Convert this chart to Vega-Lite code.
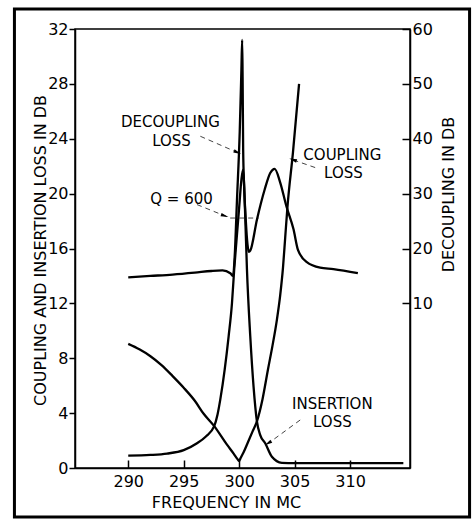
{
  "$schema": "https://vega.github.io/schema/vega-lite/v6.json",
  "width": 335,
  "height": 439,
  "autosize": {"type": "none"},
  "padding": {"left": 75, "top": 29, "right": 65, "bottom": 54},
  "background": "white",
  "config": {
    "view": {"stroke": "black", "strokeWidth": 1.5},
    "font": "DejaVu Sans",
    "axis": {
      "grid": false,
      "domainColor": "black", "domainWidth": 1.5,
      "tickColor": "black", "tickWidth": 1.5,
      "labelColor": "black", "labelFont": "DejaVu Sans", "labelFontSize": 16, "labelOverlap": false,
      "titleColor": "black", "titleFont": "DejaVu Sans", "titleFontSize": 16, "titleFontWeight": "normal"
    }
  },
  "datasets": {
    "curves": [
      {"series": "coupling", "x": 290, "y": 9.05},
      {"series": "coupling", "x": 291, "y": 8.65},
      {"series": "coupling", "x": 292, "y": 8.15},
      {"series": "coupling", "x": 293, "y": 7.5},
      {"series": "coupling", "x": 294, "y": 6.7},
      {"series": "coupling", "x": 295, "y": 5.85},
      {"series": "coupling", "x": 296, "y": 4.9},
      {"series": "coupling", "x": 296.8, "y": 3.95},
      {"series": "coupling", "x": 297.75, "y": 3.05},
      {"series": "coupling", "x": 298.9, "y": 1.7},
      {"series": "coupling", "x": 299.5, "y": 1.05},
      {"series": "coupling", "x": 299.85, "y": 0.65},
      {"series": "coupling", "x": 300.0, "y": 0.5},
      {"series": "coupling", "x": 300.12, "y": 0.71},
      {"series": "coupling", "x": 300.4, "y": 1.15},
      {"series": "coupling", "x": 300.8, "y": 1.9},
      {"series": "coupling", "x": 301.2, "y": 2.65},
      {"series": "coupling", "x": 301.6, "y": 3.4},
      {"series": "coupling", "x": 302.1, "y": 5.0},
      {"series": "coupling", "x": 302.6, "y": 7.2},
      {"series": "coupling", "x": 303.0, "y": 8.9},
      {"series": "coupling", "x": 303.4, "y": 10.8},
      {"series": "coupling", "x": 303.7, "y": 12.6},
      {"series": "coupling", "x": 303.95, "y": 14.6},
      {"series": "coupling", "x": 304.15, "y": 16.8},
      {"series": "coupling", "x": 304.35, "y": 19.0},
      {"series": "coupling", "x": 304.85, "y": 23.0},
      {"series": "coupling", "x": 305.4, "y": 28.0},
      {"series": "insertion", "x": 290, "y": 0.9},
      {"series": "insertion", "x": 292, "y": 0.95},
      {"series": "insertion", "x": 293.5, "y": 1.05},
      {"series": "insertion", "x": 295, "y": 1.3},
      {"series": "insertion", "x": 296.2, "y": 1.8},
      {"series": "insertion", "x": 297.0, "y": 2.3},
      {"series": "insertion", "x": 297.75, "y": 3.05},
      {"series": "insertion", "x": 298.05, "y": 3.9},
      {"series": "insertion", "x": 298.3, "y": 5.0},
      {"series": "insertion", "x": 298.7, "y": 7.2},
      {"series": "insertion", "x": 299.05, "y": 9.6},
      {"series": "insertion", "x": 299.35, "y": 12.0},
      {"series": "insertion", "x": 299.55, "y": 14.45},
      {"series": "insertion", "x": 299.75, "y": 16.5},
      {"series": "insertion", "x": 300.0, "y": 19.0},
      {"series": "insertion", "x": 300.2, "y": 21.0},
      {"series": "insertion", "x": 300.35, "y": 21.75},
      {"series": "insertion", "x": 300.45, "y": 20.5},
      {"series": "insertion", "x": 300.55, "y": 18.25},
      {"series": "insertion", "x": 300.7, "y": 14.5},
      {"series": "insertion", "x": 301.0, "y": 9.6},
      {"series": "insertion", "x": 301.3, "y": 5.9},
      {"series": "insertion", "x": 301.6, "y": 3.4},
      {"series": "insertion", "x": 301.9, "y": 2.4},
      {"series": "insertion", "x": 302.35, "y": 1.8},
      {"series": "insertion", "x": 302.95, "y": 0.82},
      {"series": "insertion", "x": 303.85, "y": 0.38},
      {"series": "insertion", "x": 305, "y": 0.35},
      {"series": "insertion", "x": 310, "y": 0.35},
      {"series": "insertion", "x": 314.8, "y": 0.35}
    ],
    "decoupling": [
      {"x": 290, "y": 14.75},
      {"x": 292, "y": 15.0},
      {"x": 294, "y": 15.25},
      {"x": 296, "y": 15.6},
      {"x": 297.5, "y": 15.9},
      {"x": 298.5, "y": 16.0},
      {"x": 299.2, "y": 15.5},
      {"x": 299.45, "y": 15.0},
      {"x": 299.6, "y": 18.75},
      {"x": 299.8, "y": 28.75},
      {"x": 300.05, "y": 41.25},
      {"x": 300.2, "y": 52.5},
      {"x": 300.27, "y": 58.0},
      {"x": 300.31, "y": 51.25},
      {"x": 300.36, "y": 38.0},
      {"x": 300.45, "y": 31.25},
      {"x": 300.6, "y": 25.0},
      {"x": 300.75, "y": 20.75},
      {"x": 300.87, "y": 19.4},
      {"x": 301.0, "y": 19.6},
      {"x": 301.6, "y": 25.25},
      {"x": 302.3, "y": 30.75},
      {"x": 302.8, "y": 33.75},
      {"x": 303.2, "y": 34.5},
      {"x": 303.7, "y": 32.0},
      {"x": 304.25, "y": 27.75},
      {"x": 304.9, "y": 23.5},
      {"x": 305.3, "y": 19.75},
      {"x": 306.1, "y": 17.5},
      {"x": 307.3, "y": 16.5},
      {"x": 308.5, "y": 16.25},
      {"x": 310.7, "y": 15.5}
    ],
    "labels": [
      {"x": 293.8, "y": 25.25, "text": "DECOUPLING"},
      {"x": 293.9, "y": 23.8, "text": "LOSS"},
      {"x": 294.8, "y": 19.6, "text": "Q = 600"},
      {"x": 309.3, "y": 22.85, "text": "COUPLING"},
      {"x": 309.4, "y": 21.5, "text": "LOSS"},
      {"x": 308.4, "y": 4.67, "text": "INSERTION"},
      {"x": 308.4, "y": 3.36, "text": "LOSS"}
    ],
    "leaders": [
      {"x": 296.5, "y": 24.18, "x2": 299.7, "y2": 23.05},
      {"x": 296.2, "y": 19.2, "x2": 299.19, "y2": 18.22},
      {"x": 299.19, "y": 18.22, "x2": 301.75, "y2": 18.22},
      {"x": 306.85, "y": 21.9, "x2": 305.0, "y2": 22.42},
      {"x": 305.5, "y": 3.5, "x2": 302.8, "y2": 1.9}
    ],
    "arrows": [
      {"name": "decoupling", "x": 299.85, "y": 23.0},
      {"name": "q", "x": 298.7, "y": 18.38},
      {"name": "coupling", "x": 304.85, "y": 22.47},
      {"name": "insertion", "x": 302.6, "y": 1.8}
    ]
  },
  "layer": [
    {
      "data": {"values": [{"frame": 1}]},
      "mark": {"type": "rect", "filled": false, "stroke": "black", "strokeWidth": 3, "clip": false},
      "encoding": {
        "x": {
          "datum": 279.74, "type": "quantitative",
          "scale": {"domain": [285.2, 315.4], "nice": false, "zero": false},
          "axis": {
            "orient": "bottom", "values": [290, 295, 300, 305, 310],
            "tickSize": -8, "labelPadding": 13,
            "title": "FREQUENCY IN MC", "titleX": 151, "titleY": 34, "titleBaseline": "middle", "titleAlign": "center"
          }
        },
        "x2": {"datum": 320.77},
        "y": {"datum": 33.45, "type": "quantitative", "scale": {"domain": [0, 32], "nice": false, "zero": false}, "axis": null},
        "y2": {"datum": -3.57}
      }
    },
    {
      "encoding": {
        "x": {
          "field": "x", "type": "quantitative",
          "scale": {"domain": [285.2, 315.4], "nice": false, "zero": false},
          "axis": {
            "orient": "bottom", "values": [290, 295, 300, 305, 310],
            "tickSize": -8, "labelPadding": 13,
            "title": "FREQUENCY IN MC", "titleX": 151, "titleY": 34, "titleBaseline": "middle", "titleAlign": "center"
          }
        },
        "y": {
          "field": "y", "type": "quantitative",
          "scale": {"domain": [0, 32], "nice": false, "zero": false},
          "axis": {
            "orient": "left", "values": [0, 4, 8, 12, 16, 20, 24, 28, 32],
            "tickSize": 6, "labelPadding": 1,
            "title": "COUPLING AND INSERTION LOSS IN DB",
            "titleAngle": 270, "titleX": -35, "titleY": 221, "titleBaseline": "middle", "titleAlign": "center"
          }
        }
      },
      "layer": [
        {
          "data": {"name": "curves"},
          "mark": {"type": "line", "color": "black", "strokeWidth": 2.3, "interpolate": "monotone"},
          "encoding": {"detail": {"field": "series", "type": "nominal"}}
        },
        {
          "data": {"name": "leaders"},
          "mark": {"type": "rule", "color": "#444", "strokeWidth": 1, "strokeDash": [5, 4]},
          "encoding": {"x2": {"field": "x2"}, "y2": {"field": "y2"}}
        },
        {
          "data": {"name": "arrows"},
          "transform": [{"filter": "datum.name === 'decoupling'"}],
          "mark": {"type": "point", "shape": "M0,-1L0.45,1L-0.45,1Z", "filled": true, "color": "black", "size": 60, "opacity": 1, "angle": 113},
          "encoding": {}
        },
        {
          "data": {"name": "arrows"},
          "transform": [{"filter": "datum.name === 'q'"}],
          "mark": {"type": "point", "shape": "M0,-1L0.45,1L-0.45,1Z", "filled": true, "color": "black", "size": 60, "opacity": 1, "angle": 108},
          "encoding": {}
        },
        {
          "data": {"name": "arrows"},
          "transform": [{"filter": "datum.name === 'coupling'"}],
          "mark": {"type": "point", "shape": "M0,-1L0.45,1L-0.45,1Z", "filled": true, "color": "black", "size": 60, "opacity": 1, "angle": 289},
          "encoding": {}
        },
        {
          "data": {"name": "arrows"},
          "transform": [{"filter": "datum.name === 'insertion'"}],
          "mark": {"type": "point", "shape": "M0,-1L0.45,1L-0.45,1Z", "filled": true, "color": "black", "size": 60, "opacity": 1, "angle": 239},
          "encoding": {}
        },
        {
          "data": {"name": "labels"},
          "mark": {"type": "text", "font": "DejaVu Sans", "fontSize": 15, "color": "black", "align": "center", "baseline": "middle"},
          "encoding": {"text": {"field": "text", "type": "nominal"}}
        }
      ]
    },
    {
      "data": {"name": "decoupling"},
      "mark": {"type": "line", "color": "black", "strokeWidth": 2.3, "interpolate": "monotone"},
      "encoding": {
        "x": {
          "field": "x", "type": "quantitative",
          "scale": {"domain": [285.2, 315.4], "nice": false, "zero": false},
          "axis": {
            "orient": "bottom", "values": [290, 295, 300, 305, 310],
            "tickSize": -8, "labelPadding": 13,
            "title": "FREQUENCY IN MC", "titleX": 151, "titleY": 34, "titleBaseline": "middle", "titleAlign": "center"
          }
        },
        "y": {
          "field": "y", "type": "quantitative",
          "scale": {"domain": [-20, 60], "nice": false, "zero": false},
          "axis": {
            "orient": "right", "values": [10, 20, 30, 40, 50, 60],
            "tickSize": -8, "labelPadding": 10,
            "title": "DECOUPLING IN DB",
            "titleAngle": 270, "titleX": 38, "titleY": 165, "titleBaseline": "middle", "titleAlign": "center"
          }
        }
      }
    }
  ],
  "resolve": {"scale": {"y": "independent"}}
}
